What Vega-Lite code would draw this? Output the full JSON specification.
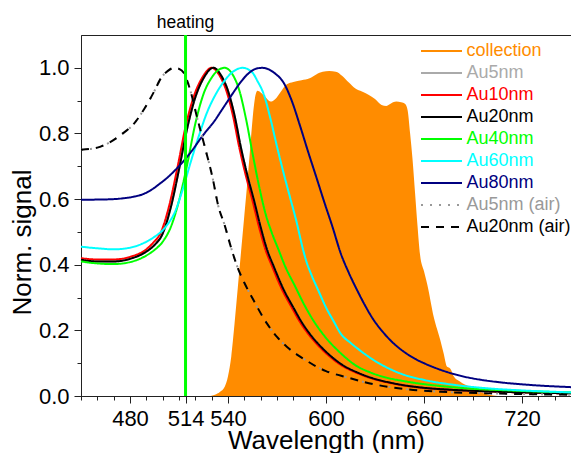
{
  "$schema": "https://vega.github.io/schema/vega-lite/v6.json",
  "width": 490,
  "height": 361,
  "autosize": {"type": "none"},
  "padding": {"left": 81, "top": 35, "right": 0, "bottom": 57},
  "config": {
    "font": "Liberation Sans",
    "view": {"stroke": "#222222", "strokeWidth": 1},
    "axis": {
      "labelFont": "Liberation Sans",
      "titleFont": "Liberation Sans",
      "titleFontWeight": "normal",
      "labelColor": "#000000",
      "titleColor": "#000000",
      "domainColor": "#222222",
      "tickColor": "#222222",
      "grid": false,
      "labelOverlap": false,
      "labelFlush": false,
      "labelBound": false
    }
  },
  "resolve": {"axis": {"x": "independent", "y": "independent"}},
  "datasets": {
    "collection": [
      {"series": "collection", "wl": 528, "v": 0},
      {"series": "collection", "wl": 532, "v": 0.004},
      {"series": "collection", "wl": 535, "v": 0.012},
      {"series": "collection", "wl": 538, "v": 0.028},
      {"series": "collection", "wl": 540, "v": 0.06},
      {"series": "collection", "wl": 542, "v": 0.12},
      {"series": "collection", "wl": 544, "v": 0.22},
      {"series": "collection", "wl": 546, "v": 0.33},
      {"series": "collection", "wl": 548, "v": 0.44},
      {"series": "collection", "wl": 550, "v": 0.55},
      {"series": "collection", "wl": 552, "v": 0.66},
      {"series": "collection", "wl": 554, "v": 0.78},
      {"series": "collection", "wl": 556, "v": 0.89},
      {"series": "collection", "wl": 558, "v": 0.93},
      {"series": "collection", "wl": 560, "v": 0.925},
      {"series": "collection", "wl": 563, "v": 0.91},
      {"series": "collection", "wl": 566, "v": 0.897},
      {"series": "collection", "wl": 569, "v": 0.905},
      {"series": "collection", "wl": 572, "v": 0.925},
      {"series": "collection", "wl": 576, "v": 0.95},
      {"series": "collection", "wl": 580, "v": 0.957},
      {"series": "collection", "wl": 585, "v": 0.962},
      {"series": "collection", "wl": 590, "v": 0.968},
      {"series": "collection", "wl": 594, "v": 0.98},
      {"series": "collection", "wl": 598, "v": 0.988},
      {"series": "collection", "wl": 602, "v": 0.99},
      {"series": "collection", "wl": 606, "v": 0.988},
      {"series": "collection", "wl": 610, "v": 0.975},
      {"series": "collection", "wl": 614, "v": 0.955},
      {"series": "collection", "wl": 618, "v": 0.937},
      {"series": "collection", "wl": 622, "v": 0.928},
      {"series": "collection", "wl": 626, "v": 0.918},
      {"series": "collection", "wl": 630, "v": 0.905},
      {"series": "collection", "wl": 634, "v": 0.887},
      {"series": "collection", "wl": 637, "v": 0.884},
      {"series": "collection", "wl": 640, "v": 0.892},
      {"series": "collection", "wl": 643, "v": 0.897},
      {"series": "collection", "wl": 646, "v": 0.895},
      {"series": "collection", "wl": 648.5, "v": 0.89},
      {"series": "collection", "wl": 650, "v": 0.87},
      {"series": "collection", "wl": 651.5, "v": 0.8},
      {"series": "collection", "wl": 653, "v": 0.72},
      {"series": "collection", "wl": 654.5, "v": 0.62},
      {"series": "collection", "wl": 656, "v": 0.52},
      {"series": "collection", "wl": 657.6, "v": 0.43},
      {"series": "collection", "wl": 660, "v": 0.38},
      {"series": "collection", "wl": 662, "v": 0.34},
      {"series": "collection", "wl": 666, "v": 0.24},
      {"series": "collection", "wl": 670, "v": 0.17},
      {"series": "collection", "wl": 672, "v": 0.13},
      {"series": "collection", "wl": 674, "v": 0.09},
      {"series": "collection", "wl": 675.5, "v": 0.086},
      {"series": "collection", "wl": 676.5, "v": 0.08},
      {"series": "collection", "wl": 678, "v": 0.062},
      {"series": "collection", "wl": 682, "v": 0.044},
      {"series": "collection", "wl": 688, "v": 0.028},
      {"series": "collection", "wl": 694, "v": 0.013},
      {"series": "collection", "wl": 700, "v": 0.004},
      {"series": "collection", "wl": 705, "v": 0}
    ],
    "spectra": [
      {"series": "Au5nm", "wl": 450, "v": 0.415},
      {"series": "Au5nm", "wl": 460, "v": 0.41},
      {"series": "Au5nm", "wl": 470, "v": 0.41},
      {"series": "Au5nm", "wl": 480, "v": 0.418},
      {"series": "Au5nm", "wl": 490, "v": 0.44},
      {"series": "Au5nm", "wl": 495, "v": 0.46},
      {"series": "Au5nm", "wl": 500, "v": 0.495},
      {"series": "Au5nm", "wl": 505, "v": 0.575},
      {"series": "Au5nm", "wl": 510, "v": 0.69},
      {"series": "Au5nm", "wl": 515, "v": 0.815},
      {"series": "Au5nm", "wl": 520, "v": 0.91},
      {"series": "Au5nm", "wl": 525, "v": 0.968},
      {"series": "Au5nm", "wl": 531, "v": 1.0},
      {"series": "Au5nm", "wl": 536, "v": 0.975},
      {"series": "Au5nm", "wl": 540, "v": 0.93},
      {"series": "Au5nm", "wl": 544, "v": 0.855},
      {"series": "Au5nm", "wl": 548, "v": 0.755},
      {"series": "Au5nm", "wl": 552, "v": 0.67},
      {"series": "Au5nm", "wl": 556, "v": 0.595},
      {"series": "Au5nm", "wl": 560, "v": 0.515},
      {"series": "Au5nm", "wl": 564, "v": 0.445},
      {"series": "Au5nm", "wl": 568, "v": 0.395},
      {"series": "Au5nm", "wl": 574, "v": 0.325},
      {"series": "Au5nm", "wl": 580, "v": 0.27},
      {"series": "Au5nm", "wl": 585, "v": 0.226},
      {"series": "Au5nm", "wl": 590, "v": 0.19},
      {"series": "Au5nm", "wl": 596, "v": 0.155},
      {"series": "Au5nm", "wl": 600, "v": 0.135},
      {"series": "Au5nm", "wl": 610, "v": 0.095},
      {"series": "Au5nm", "wl": 620, "v": 0.07},
      {"series": "Au5nm", "wl": 630, "v": 0.052},
      {"series": "Au5nm", "wl": 640, "v": 0.04},
      {"series": "Au5nm", "wl": 650, "v": 0.031},
      {"series": "Au5nm", "wl": 660, "v": 0.025},
      {"series": "Au5nm", "wl": 680, "v": 0.018},
      {"series": "Au5nm", "wl": 700, "v": 0.014},
      {"series": "Au5nm", "wl": 720, "v": 0.011},
      {"series": "Au5nm", "wl": 750, "v": 0.008},

      {"series": "Au10nm", "wl": 450, "v": 0.42},
      {"series": "Au10nm", "wl": 460, "v": 0.416},
      {"series": "Au10nm", "wl": 470, "v": 0.416},
      {"series": "Au10nm", "wl": 480, "v": 0.424},
      {"series": "Au10nm", "wl": 490, "v": 0.447},
      {"series": "Au10nm", "wl": 494, "v": 0.466},
      {"series": "Au10nm", "wl": 499, "v": 0.5},
      {"series": "Au10nm", "wl": 504, "v": 0.58},
      {"series": "Au10nm", "wl": 509, "v": 0.695},
      {"series": "Au10nm", "wl": 514, "v": 0.82},
      {"series": "Au10nm", "wl": 519, "v": 0.912},
      {"series": "Au10nm", "wl": 524, "v": 0.968},
      {"series": "Au10nm", "wl": 530, "v": 1.0},
      {"series": "Au10nm", "wl": 535, "v": 0.975},
      {"series": "Au10nm", "wl": 539, "v": 0.93},
      {"series": "Au10nm", "wl": 543, "v": 0.855},
      {"series": "Au10nm", "wl": 547, "v": 0.755},
      {"series": "Au10nm", "wl": 551, "v": 0.67},
      {"series": "Au10nm", "wl": 555, "v": 0.595},
      {"series": "Au10nm", "wl": 559, "v": 0.515},
      {"series": "Au10nm", "wl": 563, "v": 0.445},
      {"series": "Au10nm", "wl": 567, "v": 0.395},
      {"series": "Au10nm", "wl": 573, "v": 0.325},
      {"series": "Au10nm", "wl": 579, "v": 0.27},
      {"series": "Au10nm", "wl": 584, "v": 0.226},
      {"series": "Au10nm", "wl": 589, "v": 0.19},
      {"series": "Au10nm", "wl": 595, "v": 0.155},
      {"series": "Au10nm", "wl": 599, "v": 0.135},
      {"series": "Au10nm", "wl": 609, "v": 0.095},
      {"series": "Au10nm", "wl": 619, "v": 0.07},
      {"series": "Au10nm", "wl": 629, "v": 0.052},
      {"series": "Au10nm", "wl": 639, "v": 0.04},
      {"series": "Au10nm", "wl": 649, "v": 0.031},
      {"series": "Au10nm", "wl": 659, "v": 0.025},
      {"series": "Au10nm", "wl": 679, "v": 0.018},
      {"series": "Au10nm", "wl": 699, "v": 0.014},
      {"series": "Au10nm", "wl": 719, "v": 0.011},
      {"series": "Au10nm", "wl": 750, "v": 0.008},

      {"series": "Au20nm", "wl": 450, "v": 0.415},
      {"series": "Au20nm", "wl": 460, "v": 0.41},
      {"series": "Au20nm", "wl": 470, "v": 0.41},
      {"series": "Au20nm", "wl": 480, "v": 0.418},
      {"series": "Au20nm", "wl": 490, "v": 0.44},
      {"series": "Au20nm", "wl": 495, "v": 0.46},
      {"series": "Au20nm", "wl": 500, "v": 0.495},
      {"series": "Au20nm", "wl": 505, "v": 0.575},
      {"series": "Au20nm", "wl": 510, "v": 0.69},
      {"series": "Au20nm", "wl": 515, "v": 0.815},
      {"series": "Au20nm", "wl": 520, "v": 0.91},
      {"series": "Au20nm", "wl": 525, "v": 0.968},
      {"series": "Au20nm", "wl": 531, "v": 1.0},
      {"series": "Au20nm", "wl": 536, "v": 0.975},
      {"series": "Au20nm", "wl": 540, "v": 0.93},
      {"series": "Au20nm", "wl": 544, "v": 0.855},
      {"series": "Au20nm", "wl": 548, "v": 0.755},
      {"series": "Au20nm", "wl": 552, "v": 0.67},
      {"series": "Au20nm", "wl": 556, "v": 0.595},
      {"series": "Au20nm", "wl": 560, "v": 0.515},
      {"series": "Au20nm", "wl": 564, "v": 0.445},
      {"series": "Au20nm", "wl": 568, "v": 0.395},
      {"series": "Au20nm", "wl": 574, "v": 0.325},
      {"series": "Au20nm", "wl": 580, "v": 0.27},
      {"series": "Au20nm", "wl": 585, "v": 0.226},
      {"series": "Au20nm", "wl": 590, "v": 0.19},
      {"series": "Au20nm", "wl": 596, "v": 0.155},
      {"series": "Au20nm", "wl": 600, "v": 0.135},
      {"series": "Au20nm", "wl": 610, "v": 0.095},
      {"series": "Au20nm", "wl": 620, "v": 0.07},
      {"series": "Au20nm", "wl": 630, "v": 0.052},
      {"series": "Au20nm", "wl": 640, "v": 0.04},
      {"series": "Au20nm", "wl": 650, "v": 0.031},
      {"series": "Au20nm", "wl": 660, "v": 0.025},
      {"series": "Au20nm", "wl": 680, "v": 0.018},
      {"series": "Au20nm", "wl": 700, "v": 0.014},
      {"series": "Au20nm", "wl": 720, "v": 0.011},
      {"series": "Au20nm", "wl": 750, "v": 0.008},

      {"series": "Au40nm", "wl": 450, "v": 0.41},
      {"series": "Au40nm", "wl": 460, "v": 0.404},
      {"series": "Au40nm", "wl": 470, "v": 0.402},
      {"series": "Au40nm", "wl": 480, "v": 0.408},
      {"series": "Au40nm", "wl": 490, "v": 0.428},
      {"series": "Au40nm", "wl": 495, "v": 0.445},
      {"series": "Au40nm", "wl": 500, "v": 0.47},
      {"series": "Au40nm", "wl": 505, "v": 0.515},
      {"series": "Au40nm", "wl": 510, "v": 0.595},
      {"series": "Au40nm", "wl": 515, "v": 0.705},
      {"series": "Au40nm", "wl": 520, "v": 0.83},
      {"series": "Au40nm", "wl": 525, "v": 0.92},
      {"series": "Au40nm", "wl": 530, "v": 0.97},
      {"series": "Au40nm", "wl": 534, "v": 0.993},
      {"series": "Au40nm", "wl": 538, "v": 1.0},
      {"series": "Au40nm", "wl": 543, "v": 0.978},
      {"series": "Au40nm", "wl": 547, "v": 0.93},
      {"series": "Au40nm", "wl": 551, "v": 0.845},
      {"series": "Au40nm", "wl": 555, "v": 0.74},
      {"series": "Au40nm", "wl": 559, "v": 0.64},
      {"series": "Au40nm", "wl": 563, "v": 0.555},
      {"series": "Au40nm", "wl": 567, "v": 0.495},
      {"series": "Au40nm", "wl": 571, "v": 0.445},
      {"series": "Au40nm", "wl": 575, "v": 0.395},
      {"series": "Au40nm", "wl": 581, "v": 0.335},
      {"series": "Au40nm", "wl": 587, "v": 0.275},
      {"series": "Au40nm", "wl": 592, "v": 0.232},
      {"series": "Au40nm", "wl": 597, "v": 0.196},
      {"series": "Au40nm", "wl": 603, "v": 0.16},
      {"series": "Au40nm", "wl": 607, "v": 0.14},
      {"series": "Au40nm", "wl": 612, "v": 0.117},
      {"series": "Au40nm", "wl": 617, "v": 0.097},
      {"series": "Au40nm", "wl": 627, "v": 0.072},
      {"series": "Au40nm", "wl": 637, "v": 0.056},
      {"series": "Au40nm", "wl": 647, "v": 0.046},
      {"series": "Au40nm", "wl": 657, "v": 0.038},
      {"series": "Au40nm", "wl": 667, "v": 0.032},
      {"series": "Au40nm", "wl": 677, "v": 0.027},
      {"series": "Au40nm", "wl": 690, "v": 0.022},
      {"series": "Au40nm", "wl": 707, "v": 0.018},
      {"series": "Au40nm", "wl": 727, "v": 0.014},
      {"series": "Au40nm", "wl": 750, "v": 0.011},

      {"series": "Au60nm", "wl": 450, "v": 0.455},
      {"series": "Au60nm", "wl": 460, "v": 0.45},
      {"series": "Au60nm", "wl": 470, "v": 0.447},
      {"series": "Au60nm", "wl": 480, "v": 0.452},
      {"series": "Au60nm", "wl": 490, "v": 0.47},
      {"series": "Au60nm", "wl": 495, "v": 0.485},
      {"series": "Au60nm", "wl": 500, "v": 0.505},
      {"series": "Au60nm", "wl": 504, "v": 0.53},
      {"series": "Au60nm", "wl": 507, "v": 0.555},
      {"series": "Au60nm", "wl": 512, "v": 0.625},
      {"series": "Au60nm", "wl": 517, "v": 0.71},
      {"series": "Au60nm", "wl": 522, "v": 0.79},
      {"series": "Au60nm", "wl": 527, "v": 0.862},
      {"series": "Au60nm", "wl": 532, "v": 0.915},
      {"series": "Au60nm", "wl": 537, "v": 0.955},
      {"series": "Au60nm", "wl": 543, "v": 0.988},
      {"series": "Au60nm", "wl": 549, "v": 1.0},
      {"series": "Au60nm", "wl": 555, "v": 0.985},
      {"series": "Au60nm", "wl": 558, "v": 0.96},
      {"series": "Au60nm", "wl": 562, "v": 0.918},
      {"series": "Au60nm", "wl": 566, "v": 0.845},
      {"series": "Au60nm", "wl": 570, "v": 0.76},
      {"series": "Au60nm", "wl": 574, "v": 0.68},
      {"series": "Au60nm", "wl": 578, "v": 0.605},
      {"series": "Au60nm", "wl": 582, "v": 0.53},
      {"series": "Au60nm", "wl": 586, "v": 0.445},
      {"series": "Au60nm", "wl": 588, "v": 0.41},
      {"series": "Au60nm", "wl": 591, "v": 0.37},
      {"series": "Au60nm", "wl": 595, "v": 0.325},
      {"series": "Au60nm", "wl": 600, "v": 0.27},
      {"series": "Au60nm", "wl": 605, "v": 0.225},
      {"series": "Au60nm", "wl": 609, "v": 0.19},
      {"series": "Au60nm", "wl": 615, "v": 0.162},
      {"series": "Au60nm", "wl": 620, "v": 0.142},
      {"series": "Au60nm", "wl": 629, "v": 0.11},
      {"series": "Au60nm", "wl": 638, "v": 0.085},
      {"series": "Au60nm", "wl": 647, "v": 0.066},
      {"series": "Au60nm", "wl": 660, "v": 0.049},
      {"series": "Au60nm", "wl": 680, "v": 0.033},
      {"series": "Au60nm", "wl": 700, "v": 0.023},
      {"series": "Au60nm", "wl": 720, "v": 0.017},
      {"series": "Au60nm", "wl": 750, "v": 0.011},

      {"series": "Au80nm", "wl": 450, "v": 0.598},
      {"series": "Au80nm", "wl": 465, "v": 0.599},
      {"series": "Au80nm", "wl": 475, "v": 0.602},
      {"series": "Au80nm", "wl": 482, "v": 0.607},
      {"series": "Au80nm", "wl": 488, "v": 0.615},
      {"series": "Au80nm", "wl": 493, "v": 0.628},
      {"series": "Au80nm", "wl": 498, "v": 0.646},
      {"series": "Au80nm", "wl": 503, "v": 0.666},
      {"series": "Au80nm", "wl": 508, "v": 0.69},
      {"series": "Au80nm", "wl": 513, "v": 0.717},
      {"series": "Au80nm", "wl": 518, "v": 0.748},
      {"series": "Au80nm", "wl": 524, "v": 0.79},
      {"series": "Au80nm", "wl": 532, "v": 0.84},
      {"series": "Au80nm", "wl": 536, "v": 0.87},
      {"series": "Au80nm", "wl": 540, "v": 0.9},
      {"series": "Au80nm", "wl": 544, "v": 0.93},
      {"series": "Au80nm", "wl": 548, "v": 0.958},
      {"series": "Au80nm", "wl": 553, "v": 0.985},
      {"series": "Au80nm", "wl": 557, "v": 0.997},
      {"series": "Au80nm", "wl": 561, "v": 1.0},
      {"series": "Au80nm", "wl": 565, "v": 0.995},
      {"series": "Au80nm", "wl": 569, "v": 0.982},
      {"series": "Au80nm", "wl": 574, "v": 0.955},
      {"series": "Au80nm", "wl": 579, "v": 0.9},
      {"series": "Au80nm", "wl": 584, "v": 0.825},
      {"series": "Au80nm", "wl": 589, "v": 0.745},
      {"series": "Au80nm", "wl": 594, "v": 0.668},
      {"series": "Au80nm", "wl": 599, "v": 0.59},
      {"series": "Au80nm", "wl": 604, "v": 0.515},
      {"series": "Au80nm", "wl": 609, "v": 0.435},
      {"series": "Au80nm", "wl": 614, "v": 0.375},
      {"series": "Au80nm", "wl": 619, "v": 0.323},
      {"series": "Au80nm", "wl": 624, "v": 0.275},
      {"series": "Au80nm", "wl": 629, "v": 0.233},
      {"series": "Au80nm", "wl": 634, "v": 0.2},
      {"series": "Au80nm", "wl": 639, "v": 0.172},
      {"series": "Au80nm", "wl": 645, "v": 0.145},
      {"series": "Au80nm", "wl": 650, "v": 0.127},
      {"series": "Au80nm", "wl": 655, "v": 0.112},
      {"series": "Au80nm", "wl": 660, "v": 0.1},
      {"series": "Au80nm", "wl": 670, "v": 0.08},
      {"series": "Au80nm", "wl": 682, "v": 0.062},
      {"series": "Au80nm", "wl": 694, "v": 0.05},
      {"series": "Au80nm", "wl": 706, "v": 0.042},
      {"series": "Au80nm", "wl": 727, "v": 0.033},
      {"series": "Au80nm", "wl": 750, "v": 0.027},

      {"series": "Au5nm (air)", "wl": 450, "v": 0.75},
      {"series": "Au5nm (air)", "wl": 462, "v": 0.76},
      {"series": "Au5nm (air)", "wl": 474.5, "v": 0.796},
      {"series": "Au5nm (air)", "wl": 482.6, "v": 0.831},
      {"series": "Au5nm (air)", "wl": 490.8, "v": 0.892},
      {"series": "Au5nm (air)", "wl": 495, "v": 0.93},
      {"series": "Au5nm (air)", "wl": 499, "v": 0.969},
      {"series": "Au5nm (air)", "wl": 503, "v": 0.99},
      {"series": "Au5nm (air)", "wl": 507, "v": 1.0},
      {"series": "Au5nm (air)", "wl": 510, "v": 0.997},
      {"series": "Au5nm (air)", "wl": 513, "v": 0.984},
      {"series": "Au5nm (air)", "wl": 517, "v": 0.93},
      {"series": "Au5nm (air)", "wl": 521, "v": 0.85},
      {"series": "Au5nm (air)", "wl": 525.5, "v": 0.765},
      {"series": "Au5nm (air)", "wl": 530.6, "v": 0.664},
      {"series": "Au5nm (air)", "wl": 534, "v": 0.58},
      {"series": "Au5nm (air)", "wl": 538, "v": 0.52},
      {"series": "Au5nm (air)", "wl": 542, "v": 0.45},
      {"series": "Au5nm (air)", "wl": 546, "v": 0.39},
      {"series": "Au5nm (air)", "wl": 550, "v": 0.345},
      {"series": "Au5nm (air)", "wl": 555.5, "v": 0.293},
      {"series": "Au5nm (air)", "wl": 563.7, "v": 0.222},
      {"series": "Au5nm (air)", "wl": 570, "v": 0.18},
      {"series": "Au5nm (air)", "wl": 576, "v": 0.15},
      {"series": "Au5nm (air)", "wl": 582, "v": 0.127},
      {"series": "Au5nm (air)", "wl": 588, "v": 0.108},
      {"series": "Au5nm (air)", "wl": 594, "v": 0.09},
      {"series": "Au5nm (air)", "wl": 600, "v": 0.076},
      {"series": "Au5nm (air)", "wl": 612.7, "v": 0.057},
      {"series": "Au5nm (air)", "wl": 629, "v": 0.036},
      {"series": "Au5nm (air)", "wl": 649, "v": 0.021},
      {"series": "Au5nm (air)", "wl": 670, "v": 0.013},
      {"series": "Au5nm (air)", "wl": 700, "v": 0.008},
      {"series": "Au5nm (air)", "wl": 750, "v": 0.004},

      {"series": "Au20nm (air)", "wl": 450, "v": 0.75},
      {"series": "Au20nm (air)", "wl": 462, "v": 0.76},
      {"series": "Au20nm (air)", "wl": 474.5, "v": 0.796},
      {"series": "Au20nm (air)", "wl": 482.6, "v": 0.831},
      {"series": "Au20nm (air)", "wl": 490.8, "v": 0.892},
      {"series": "Au20nm (air)", "wl": 495, "v": 0.93},
      {"series": "Au20nm (air)", "wl": 499, "v": 0.969},
      {"series": "Au20nm (air)", "wl": 503, "v": 0.99},
      {"series": "Au20nm (air)", "wl": 507, "v": 1.0},
      {"series": "Au20nm (air)", "wl": 510, "v": 0.997},
      {"series": "Au20nm (air)", "wl": 513, "v": 0.984},
      {"series": "Au20nm (air)", "wl": 517, "v": 0.93},
      {"series": "Au20nm (air)", "wl": 521, "v": 0.85},
      {"series": "Au20nm (air)", "wl": 525.5, "v": 0.765},
      {"series": "Au20nm (air)", "wl": 530.6, "v": 0.664},
      {"series": "Au20nm (air)", "wl": 534, "v": 0.58},
      {"series": "Au20nm (air)", "wl": 538, "v": 0.52},
      {"series": "Au20nm (air)", "wl": 542, "v": 0.45},
      {"series": "Au20nm (air)", "wl": 546, "v": 0.39},
      {"series": "Au20nm (air)", "wl": 550, "v": 0.345},
      {"series": "Au20nm (air)", "wl": 555.5, "v": 0.293},
      {"series": "Au20nm (air)", "wl": 563.7, "v": 0.222},
      {"series": "Au20nm (air)", "wl": 570, "v": 0.18},
      {"series": "Au20nm (air)", "wl": 576, "v": 0.15},
      {"series": "Au20nm (air)", "wl": 582, "v": 0.127},
      {"series": "Au20nm (air)", "wl": 588, "v": 0.108},
      {"series": "Au20nm (air)", "wl": 594, "v": 0.09},
      {"series": "Au20nm (air)", "wl": 600, "v": 0.076},
      {"series": "Au20nm (air)", "wl": 612.7, "v": 0.057},
      {"series": "Au20nm (air)", "wl": 629, "v": 0.036},
      {"series": "Au20nm (air)", "wl": 649, "v": 0.021},
      {"series": "Au20nm (air)", "wl": 670, "v": 0.013},
      {"series": "Au20nm (air)", "wl": 700, "v": 0.008},
      {"series": "Au20nm (air)", "wl": 750, "v": 0.004}
    ],
    "heating": [
      {"wl": 514, "label": "heating"}
    ]
  },
  "layer": [
    {
      "data": {"name": "collection"},
      "mark": {"type": "area", "interpolate": "monotone", "opacity": 1},
      "encoding": {
        "x": {
          "field": "wl", "type": "quantitative",
          "scale": {"domain": [450, 750], "nice": false, "zero": false},
          "axis": {
            "orient": "bottom",
            "title": "Wavelength (nm)",
            "titleFontSize": 26,
            "titleX": 245,
            "titleY": 52,
            "titleBaseline": "alphabetic",
            "values": [480, 514, 540, 600, 660, 720],
            "labelFontSize": 22,
            "labelPadding": 5,
            "tickSize": 7,
            "labelOverlap": false
          }
        },
        "y": {
          "field": "v", "type": "quantitative",
          "scale": {"domain": [0, 1.1], "nice": false},
          "axis": {
            "orient": "left",
            "title": "Norm. signal",
            "titleFontSize": 26,
            "titleAngle": -90,
            "titleX": -51,
            "titleY": 207,
            "titleAlign": "center",
            "titleBaseline": "alphabetic",
            "values": [0, 0.2, 0.4, 0.6, 0.8, 1.0],
            "format": ".1f",
            "labelFontSize": 22,
            "labelPadding": 5,
            "tickSize": 7,
            "labelOverlap": false
          }
        },
        "color": {"field": "series", "type": "nominal"}
      }
    },
    {
      "data": {"name": "spectra"},
      "mark": {"type": "line", "strokeWidth": 2, "interpolate": "monotone"},
      "encoding": {
        "x": {
          "field": "wl", "type": "quantitative",
          "axis": {
            "orient": "bottom",
            "title": null,
            "domain": false,
            "labels": false,
            "tickSize": 4,
            "values": [450, 460, 470, 490, 500, 510, 520, 530, 550, 560, 570, 580, 590, 610, 620, 630, 640, 650, 670, 680, 690, 700, 710, 730, 740, 750]
          }
        },
        "y": {
          "field": "v", "type": "quantitative",
          "axis": {
            "orient": "left",
            "title": null,
            "domain": false,
            "labels": false,
            "tickSize": 4,
            "values": [0.1, 0.3, 0.5, 0.7, 0.9]
          }
        },
        "color": {
          "field": "series", "type": "nominal",
          "scale": {
            "domain": ["collection", "Au5nm", "Au10nm", "Au20nm", "Au40nm", "Au60nm", "Au80nm", "Au5nm (air)", "Au20nm (air)"],
            "range": ["#ff8c00", "#aaaaaa", "#ff0000", "#000000", "#00ff00", "#00ffff", "#000080", "#999999", "#000000"]
          },
          "legend": {
            "title": null,
            "orient": "none",
            "legendX": 351.5,
            "legendY": 7,
            "padding": 0,
            "symbolType": "M-4.1,0H4.1",
            "symbolSize": 100,
            "symbolStrokeWidth": 2,
            "labelFont": "Liberation Sans",
            "labelFontSize": 18,
            "labelOffset": 16,
            "labelLimit": 250,
            "rowPadding": 4,
            "encode": {
              "labels": {"update": {"fill": {"signal": "scale('color', datum.value)"}}},
              "symbols": {"update": {
                "stroke": {"signal": "scale('color', datum.value)"},
                "strokeDash": {"signal": "scale('strokeDash', datum.value)"},
                "fill": {"value": "transparent"}
              }}
            }
          }
        },
        "strokeDash": {
          "field": "series", "type": "nominal",
          "scale": {
            "domain": ["collection", "Au5nm", "Au10nm", "Au20nm", "Au40nm", "Au60nm", "Au80nm", "Au5nm (air)", "Au20nm (air)"],
            "range": [[1, 0], [1, 0], [1, 0], [1, 0], [1, 0], [1, 0], [1, 0], [2, 7], [8, 7]]
          },
          "legend": {
            "title": null,
            "orient": "none",
            "legendX": 351.5,
            "legendY": 7
          }
        }
      }
    },
    {
      "data": {"name": "heating"},
      "mark": {"type": "rule", "color": "#00ff00", "strokeWidth": 3},
      "encoding": {
        "x": {"field": "wl", "type": "quantitative", "axis": null}
      }
    },
    {
      "data": {"name": "heating"},
      "mark": {"type": "text", "fontSize": 17.5, "font": "Liberation Sans", "align": "center", "baseline": "alphabetic", "dy": -7, "color": "#000000"},
      "encoding": {
        "x": {"field": "wl", "type": "quantitative", "axis": null},
        "y": {"datum": 1.1, "type": "quantitative", "axis": null},
        "text": {"field": "label"}
      }
    }
  ]
}
